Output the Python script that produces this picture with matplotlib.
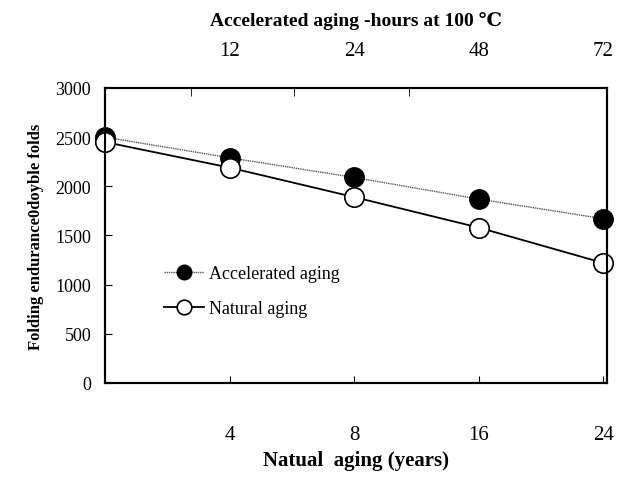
import matplotlib
matplotlib.use("Agg")
from matplotlib import pyplot as plt

# data
years = ['0', '4', '8', '16', '24']        # natural aging (years), bottom axis
hours = ['12', '24', '48', '72']           # accelerated aging (hours), top axis
accelerated = [2500, 2290, 2090, 1870, 1670]
natural = [2450, 2190, 1890, 1580, 1220]

plt.rcParams['font.family'] = ['Liberation Serif', 'DejaVu Serif']

fig = plt.figure(figsize=(6.18, 4.81), dpi=100)
ax = fig.add_axes([0.170, 0.202, 0.812, 0.613])

pos = list(range(len(years)))
ax.plot(pos, accelerated, color='#555555', lw=1.0, ls=(0, (1, 0.6)),
        marker='o', ms=14, mfc='black', mec='black', label='Accelerated aging',
        clip_on=False, zorder=3)
ax.plot(pos, natural, color='black', lw=1.3,
        marker='o', ms=14, mfc='white', mec='black', mew=1.2, label='Natural aging',
        clip_on=False, zorder=4)

ax.set_xlim(0, 4.03)
ax.set_ylim(0, 3000)
ax.set_yticks(range(0, 3001, 500))
ax.tick_params(axis='y', labelsize=13, length=5, direction='in', pad=10)

# bottom axis: ticks at data positions, labels far below
ax.set_xticks(pos[1:])
ax.set_xticklabels(years[1:], fontsize=15)
ax.tick_params(axis='x', length=5, direction='in', pad=30)
ax.set_xlabel('Natual  aging (years)', fontsize=15, fontweight='bold', labelpad=5)
ax.set_ylabel('Folding endurance0doyble folds', fontsize=12, fontweight='bold', labelpad=8)

# top axis: labels above data points, ticks in between
top = ax.twiny()
top.set_xlim(ax.get_xlim())
top.set_xticks(pos[1:])
top.set_xticklabels(hours, fontsize=15)
top.tick_params(axis='x', length=0, pad=20)
top.set_xticks([0.69, 1.52, 2.44], minor=True)
top.tick_params(axis='x', which='minor', length=6, direction='in')
top.set_xlabel('Accelerated aging -hours at 100 \u2103', fontsize=14,
               fontweight='bold', labelpad=12)

for a in (ax, top):
    for s in a.spines.values():
        s.set_linewidth(1.5)

leg = ax.legend(loc='center left', bbox_to_anchor=(0.085, 0.31), frameon=False,
                fontsize=13, handlelength=2.2, handletextpad=0.3, labelspacing=1.0,
                markerscale=0.75)

fig.savefig('out.png', dpi=100)
